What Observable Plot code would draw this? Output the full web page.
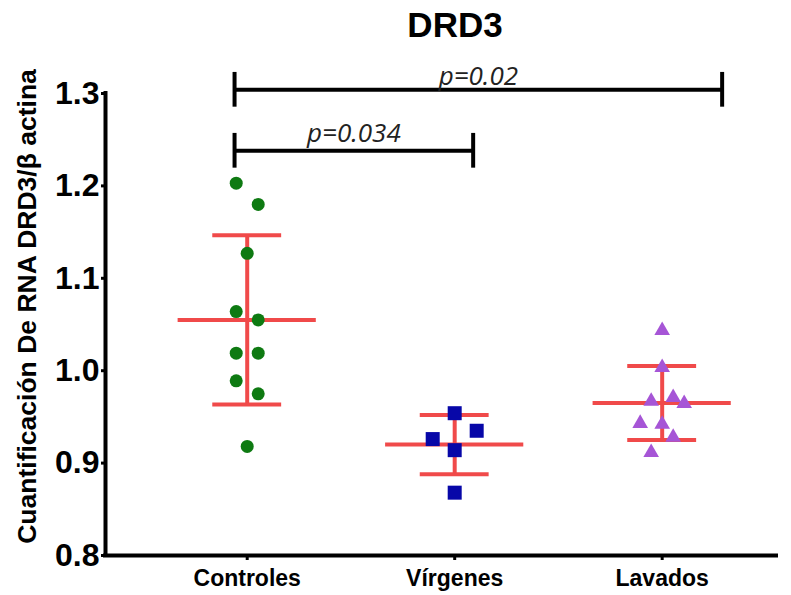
<!DOCTYPE html>
<html><head><meta charset="utf-8">
<script src="https://cdn.jsdelivr.net/npm/d3@7"></script>
<script src="https://cdn.jsdelivr.net/npm/@observablehq/plot@0.6"></script>
<style>
body{margin:0;background:#fff;}
#title{position:relative;height:50px;width:791px;}
#title span{position:absolute;left:455px;top:7px;transform:translateX(-50%);font:bold 35px/35px "Liberation Sans",Arial,sans-serif;color:#000;white-space:nowrap;}
#chart svg{display:block;}
</style></head><body>
<div id="title"><span>DRD3</span></div>
<div id="chart"></div>
<script>
// ---- data ----
const groups = ["Controles", "Vírgenes", "Lavados"];
const controles = [1.203, 1.180, 1.127, 1.064, 1.055, 1.019, 1.019, 0.989, 0.975, 0.918];
const controlesJitter = [-1, 1, 0, -1, 1, -1, 1, -1, 1, 0];
const virgenes = [0.954, 0.935, 0.926, 0.914, 0.868];
const virgenesJitter = [0, 2, -2, 0, 0];
const lavados = [1.0435, 1.0035, 0.967, 0.971, 0.9645, 0.943, 0.942, 0.928, 0.9115];
const lavadosJitter = [0, 0, -1, 1, 2, -2, 0, 1, -1];
const means = [1.055, 0.920, 0.965];
const sds = [0.0915, 0.032, 0.040];
const yTicks = [0.8, 0.9, 1.0, 1.1, 1.2, 1.3];
const bracketFrom = [0.939, 0.939];
const bracketTo = [2.089, 3.289];
const bracketY = [1.238, 1.304];
const bracketLabelY = [1.2473, 1.3087];
const bracketLabels = ["p=0.034", "p=0.02"];
const yLabel = "Cuantificación De RNA DRD3/β actina";

// ---- styling constants ----
const J = 0.053, MEAN_HALF = 0.333, CAP_HALF = 0.166, TICK = 0.0188;
const xDomain = [0.317, 3.551], yDomain = [0.8, 1.3];
const red = "#f04a4a";
const font = "'Liberation Sans', Arial, sans-serif";

const mk = (vals, jit, gi) => vals.map((v, i) => ({x: gi + 1 + jit[i] * J, y: v}));
const ctrl = mk(controles, controlesJitter, 0);
const virg = mk(virgenes, virgenesJitter, 1);
const lav = mk(lavados, lavadosJitter, 2);
const stats = groups.map((g, i) => ({x: i + 1, mean: means[i], lo: means[i] - sds[i], hi: means[i] + sds[i]}));
const brackets = bracketLabels.map((l, i) => ({x1: bracketFrom[i], x2: bracketTo[i], y: bracketY[i], ly: bracketLabelY[i], label: l}));

const chart = Plot.plot({
  width: 791, height: 545,
  marginLeft: 105, marginRight: 15, marginTop: 43, marginBottom: 40,
  x: {domain: xDomain},
  y: {domain: yDomain},
  style: {fontFamily: font, background: "#fff", color: "#000", overflow: "visible"},
  marks: [
    Plot.axisY({ticks: yTicks, tickSize: 4, tickPadding: 2, fontSize: 32, fontWeight: "bold", strokeWidth: 3, tickFormat: d => d.toFixed(1), label: null}),
    Plot.axisX({ticks: [1, 2, 3], tickFormat: d => groups[d - 1], tickSize: 5, tickPadding: 9, fontSize: 23, fontWeight: "bold", strokeWidth: 3, label: null}),
    Plot.ruleY([yDomain[0]], {stroke: "#000", strokeWidth: 4, strokeLinecap: "square"}),
    Plot.ruleX([xDomain[0]], {y1: yDomain[0], y2: yDomain[1], stroke: "#000", strokeWidth: 4, strokeLinecap: "square"}),
    Plot.text([yLabel], {text: d => d, frameAnchor: "left", textAnchor: "middle", rotate: -90, dx: -78, dy: -18, fontSize: 26.5, fontWeight: "bold", fill: "#000"}),
    // error bars
    Plot.ruleX(stats, {x: "x", y1: "lo", y2: "hi", stroke: red, strokeWidth: 4}),
    Plot.ruleY(stats, {y: "mean", x1: d => d.x - MEAN_HALF, x2: d => d.x + MEAN_HALF, stroke: red, strokeWidth: 4}),
    Plot.ruleY(stats, {y: "hi", x1: d => d.x - CAP_HALF, x2: d => d.x + CAP_HALF, stroke: red, strokeWidth: 4}),
    Plot.ruleY(stats, {y: "lo", x1: d => d.x - CAP_HALF, x2: d => d.x + CAP_HALF, stroke: red, strokeWidth: 4}),
    // points
    Plot.dot(ctrl, {x: "x", y: "y", symbol: "circle", r: 6.5, fill: "#0e7a12"}),
    Plot.dot(virg, {x: "x", y: "y", symbol: "square", r: 7.9, fill: "#0707a8"}),
    Plot.dot(lav, {x: "x", y: "y", symbol: "triangle", r: 5.8, fill: "#a655d6"}),
    // significance brackets
    Plot.ruleY(brackets, {y: "y", x1: "x1", x2: "x2", stroke: "#000", strokeWidth: 4}),
    Plot.ruleX(brackets, {x: "x1", y1: d => d.y - TICK, y2: d => d.y + TICK, stroke: "#000", strokeWidth: 4}),
    Plot.ruleX(brackets, {x: "x2", y1: d => d.y - TICK, y2: d => d.y + TICK, stroke: "#000", strokeWidth: 4}),
    Plot.text(brackets, {x: d => (d.x1 + d.x2) / 2, y: "ly", text: "label", lineAnchor: "bottom", fontStyle: "italic", fontFamily: "'Open Sans', sans-serif", fontSize: 26, fill: "#222"})
  ]
});
document.getElementById("chart").appendChild(chart);
</script>
</body></html>
